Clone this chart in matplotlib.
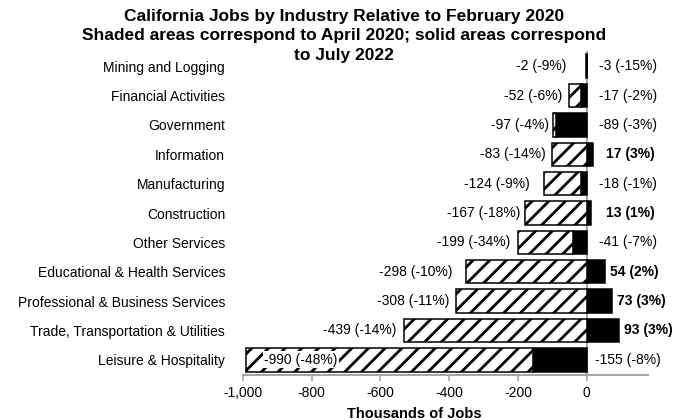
import matplotlib
matplotlib.use("Agg")
import matplotlib.pyplot as plt
from matplotlib.ticker import FuncFormatter, FixedLocator

plt.rcParams['font.family'] = ['Liberation Sans', 'DejaVu Sans']
plt.rcParams['hatch.linewidth'] = 2.0

# ---- data (top to bottom) ----
industries = ["Mining and Logging", "Financial Activities", "Government", "Information",
              "Manufacturing", "Construction", "Other Services",
              "Educational & Health Services", "Professional & Business Services",
              "Trade, Transportation & Utilities", "Leisure & Hospitality"]
april_2020 = [-2, -52, -97, -83, -124, -167, -199, -298, -308, -439, -990]
april_pct = [-9, -6, -4, -14, -9, -18, -34, -10, -11, -14, -48]
july_2022 = [-3, -17, -89, 17, -18, 13, -41, 54, 73, 93, -155]
july_pct = [-15, -2, -3, 3, -1, 1, -7, 2, 3, 3, -8]
x_ticks = [-1000, -800, -600, -400, -200, 0]
title_lines = ["California Jobs by Industry Relative to February 2020",
               "Shaded areas correspond to April 2020; solid areas correspond",
               "to July 2022"]

# label gaps (layout only, data units)
april_label_gap = [57, 18, 14, 18, 41, 12, 22, 37, 18, 22, 0]

fig = plt.figure(figsize=(6.88, 4.2), dpi=100)
ax = fig.add_axes([0.3528, 0.1083, 0.589, 0.7691])

n = len(industries)
ypos = list(range(n))
bar_h = 0.8

# Excel-style stacking: solid (July) first, shaded (April - July) stacked on same-sign side
for i in range(n):
    j = july_2022[i]
    d = april_2020[i] - j
    pos_acc, neg_acc = 0.0, 0.0
    ax.barh(ypos[i], j, height=bar_h, left=0, color='black', edgecolor='black',
            linewidth=1.1, zorder=3)
    if j >= 0:
        pos_acc += j
    else:
        neg_acc += j
    left = pos_acc if d >= 0 else neg_acc
    ax.barh(ypos[i], d, height=bar_h, left=left, color='white', edgecolor='black',
            hatch='//', linewidth=1.1, zorder=3)

    bar_left = min(0, j, left + d)
    # April label
    a_txt = f"{april_2020[i]} ({april_pct[i]}%)"
    if bar_left < -900:
        ax.text(bar_left + 52, ypos[i], a_txt, ha='left', va='center', fontsize=10,
                zorder=5, bbox=dict(facecolor='white', edgecolor='none', pad=1.0))
    else:
        ax.text(bar_left - april_label_gap[i], ypos[i], a_txt, ha='right',
                va='center', fontsize=10, zorder=5)
    # July label
    j_txt = f"{j} ({july_pct[i]}%)"
    if j >= 0:
        ax.text(max(j + 15, 55), ypos[i], j_txt, ha='left', va='center',
                fontsize=10, fontweight='bold', clip_on=False)
    else:
        ax.text(120, ypos[i], j_txt, ha='center', va='center', fontsize=10,
                clip_on=False)

ax.axvline(0, color='#a6a6a6', linewidth=1.5, zorder=1)

ax.set_xlim(-1000, 178)
ax.set_ylim(n - 0.5, -0.5)
ax.set_yticks(ypos)
ax.set_yticklabels(industries, fontsize=10)
ax.tick_params(axis='y', length=0, pad=12.7)

ax.xaxis.set_major_locator(FixedLocator(x_ticks))
ax.xaxis.set_major_formatter(FuncFormatter(lambda v, p: f"{v:,.0f}"))
ax.tick_params(axis='x', direction='out', length=4, width=1.2, color='#a6a6a6',
               labelsize=10, pad=4)

for s in ['top', 'right', 'left']:
    ax.spines[s].set_visible(False)
ax.spines['bottom'].set_color('#a6a6a6')
ax.spines['bottom'].set_linewidth(1.5)

ax.set_xlabel("Thousands of Jobs", fontsize=10.5, fontweight='bold')
ax.xaxis.set_label_coords((-500 + 1000) / 1178, -0.1)

# title: one text per line, baselines ~19.5 px apart
for k, line in enumerate(title_lines):
    fig.text(0.5, 1 - (21 + 19.3 * k) / 420, line, ha='center', va='baseline',
             fontsize=12.5, fontweight='bold')

fig.savefig("out.png", dpi=100)
